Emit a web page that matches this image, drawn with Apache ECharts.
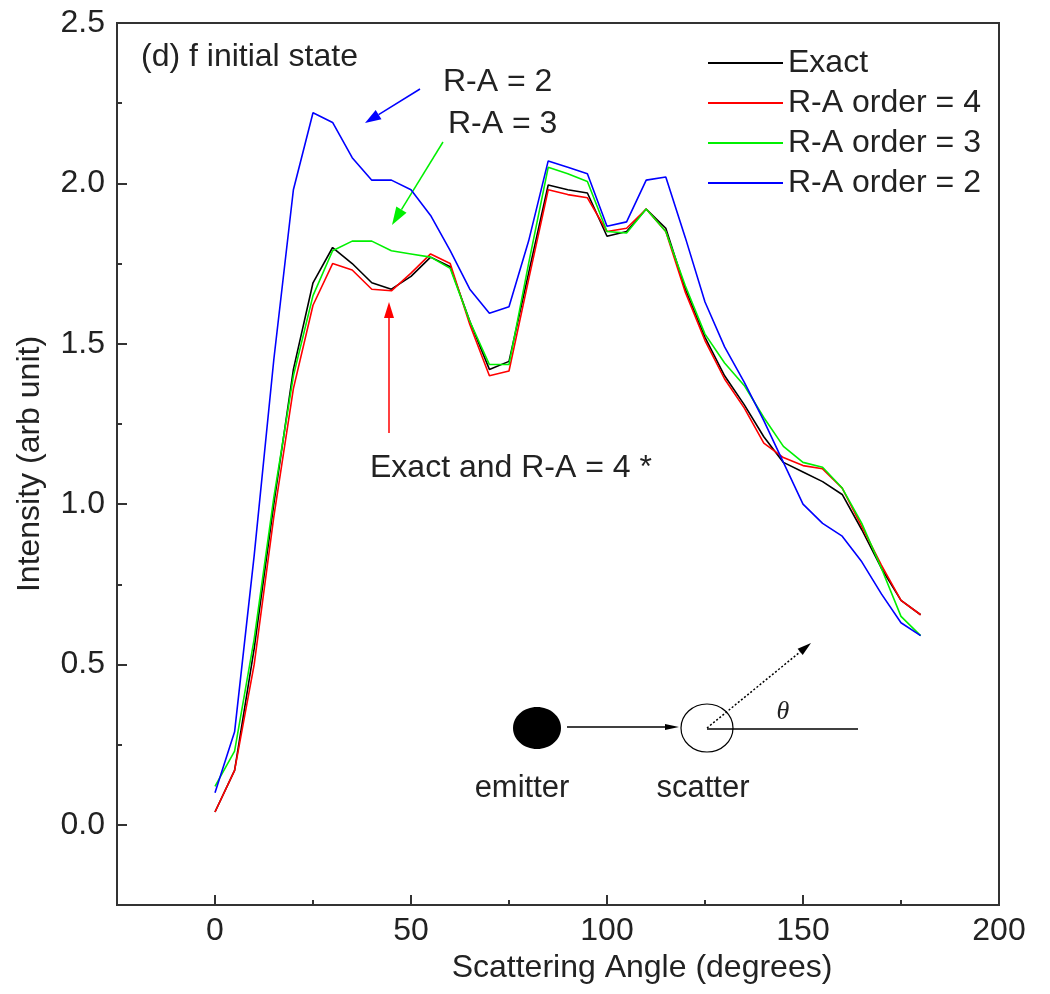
<!DOCTYPE html>
<html>
<head>
<meta charset="utf-8">
<script src="https://cdn.jsdelivr.net/npm/echarts@6/dist/echarts.min.js"></script>
<style>
html,body{margin:0;padding:0;background:#fff;}
#chart{width:1050px;height:994px;}
</style>
</head>
<body>
<div id="chart"></div>
<script>
const angles = [0,5,10,15,20,25,30,35,40,45,50,55,60,65,70,75,80,85,90,95,100,105,110,115,120,125,130,135,140,145,150,155,160,165,170,175,180];
const exact = [0.04,0.17,0.55,1.00,1.42,1.69,1.80,1.75,1.69,1.67,1.71,1.77,1.74,1.57,1.42,1.445,1.72,1.995,1.98,1.97,1.835,1.85,1.92,1.86,1.67,1.52,1.40,1.31,1.21,1.13,1.10,1.07,1.03,0.92,0.80,0.70,0.655];
const raOrder4 = [0.04,0.17,0.50,0.96,1.36,1.62,1.75,1.73,1.67,1.665,1.72,1.78,1.75,1.56,1.40,1.415,1.70,1.98,1.965,1.955,1.85,1.86,1.92,1.85,1.66,1.51,1.39,1.30,1.19,1.145,1.12,1.11,1.05,0.93,0.81,0.70,0.655];
const raOrder3 = [0.12,0.23,0.58,1.02,1.40,1.65,1.79,1.82,1.82,1.79,1.78,1.77,1.735,1.57,1.435,1.435,1.75,2.05,2.03,2.006,1.85,1.845,1.92,1.85,1.68,1.53,1.44,1.37,1.27,1.18,1.13,1.115,1.05,0.94,0.80,0.65,0.59];
const raOrder2 = [0.10,0.29,0.84,1.45,1.98,2.22,2.19,2.08,2.01,2.01,1.98,1.90,1.79,1.67,1.595,1.615,1.82,2.07,2.05,2.03,1.866,1.88,2.01,2.02,1.83,1.63,1.49,1.38,1.26,1.13,1.00,0.94,0.90,0.82,0.72,0.63,0.59];
const seriesNames = ['Exact','R-A order = 4','R-A order = 3','R-A order = 2'];
const xMajorTicks = [0,50,100,150,200];
const xMinorTicks = [25,75,125,175];
const yMajorTicks = [0,0.5,1.0,1.5,2.0,2.5];
const yMinorTicks = [0.25,0.75,1.25,1.75,2.25];

const FONT = '"Liberation Sans", Arial, sans-serif';
const TXT = '#222';
const AX = '#333';
const colors = ['#000000','#ff0000','#00f000','#0000ff'];
const values = [exact, raOrder4, raOrder3, raOrder2];

function arrow(x1,y1,x2,y2,color,hl,hw,dash){
  const dx=x2-x1, dy=y2-y1, L=Math.sqrt(dx*dx+dy*dy), ux=dx/L, uy=dy/L;
  const bx=x2-ux*hl, by=y2-uy*hl;
  const px=-uy*hw/2, py=ux*hw/2;
  return [
    {type:'line', shape:{x1:x1,y1:y1,x2:bx,y2:by}, style:{stroke:color,lineWidth:1.5,lineDash:dash||null}, silent:true},
    {type:'polygon', shape:{points:[[x2,y2],[bx+px,by+py],[bx-px,by-py]]}, style:{fill:color}, silent:true}
  ];
}
function txt(t,x,y,size,align,fontStyle){
  return {type:'text', x:x, y:y, silent:true, style:{text:t, fill:TXT, font:(fontStyle||'')+' '+size+'px '+FONT, align:align||'left', verticalAlign:'middle', textAlign:align||'left', textVerticalAlign:'middle'}};
}

const graphics = [].concat(
  [txt('(d) f initial state',141,57,32)],
  [txt('R-A = 2',443,82,32)],
  [txt('R-A = 3',448,124,32)],
  arrow(420,89,365,123,'#0000ff',16,11),
  arrow(443,142,392,225,'#00f000',18,12),
  arrow(389,433,389,302,'#ff0000',16,10),
  [txt('Exact and R-A = 4 *',370,468,32)],
  [{type:'ellipse', shape:{cx:537,cy:728,rx:24,ry:21}, style:{fill:'#000'}, silent:true}],
  arrow(567,727,679,727,'#000',14,6),
  [{type:'ellipse', shape:{cx:707,cy:728,rx:26,ry:24}, style:{fill:'none',stroke:'#000',lineWidth:1.2}, silent:true}],
  [{type:'line', shape:{x1:707,y1:729,x2:858,y2:729}, style:{stroke:'#000',lineWidth:1.5}, silent:true}],
  arrow(707,728,811,643,'#000',14,8,[2,2]),
  [{type:'text', x:783, y:712, silent:true, style:{text:'θ', fill:TXT, font:'italic 26px "Liberation Serif", serif', align:'center', verticalAlign:'middle', textAlign:'center', textVerticalAlign:'middle'}}],
  [txt('emitter',522,788,31,'center')],
  [txt('scatter',703,788,31,'center')]
);

const chart = echarts.init(document.getElementById('chart'), null, {renderer:'canvas'});
chart.setOption({
  backgroundColor:'#fff',
  animation:false,
  grid:{left:117, top:23, right:51, bottom:89, show:true, borderColor:AX, borderWidth:2, backgroundColor:'transparent'},
  legend:{
    orient:'vertical', left:703, top:42, itemWidth:75, itemHeight:2, itemGap:8,
    icon:'rect',
    data:seriesNames,
    textStyle:{fontSize:32, color:TXT, fontFamily:FONT},
    selectedMode:false
  },
  xAxis:[{
    type:'value', min:-25, max:200, position:'bottom',
    name:'Scattering Angle (degrees)', nameLocation:'middle', nameGap:47,
    nameTextStyle:{fontSize:32, color:TXT, fontFamily:FONT, padding:[0,0,0,168]},
    axisLine:{show:true, onZero:false, lineStyle:{color:AX, width:2}},
    axisTick:{show:true, inside:true, length:10, customValues:xMajorTicks, lineStyle:{color:AX, width:2}},
    axisLabel:{show:true, customValues:xMajorTicks, fontSize:32, color:TXT, fontFamily:FONT, margin:10},
    splitLine:{show:false}
  },{
    type:'value', min:-25, max:200, position:'bottom', gridIndex:0,
    axisLine:{show:false, onZero:false},
    axisTick:{show:true, inside:true, length:5, customValues:xMinorTicks, lineStyle:{color:AX, width:2}},
    axisLabel:{show:false},
    splitLine:{show:false}
  }],
  yAxis:[{
    type:'value', min:-0.25, max:2.5, position:'left',
    name:'Intensity (arb unit)', nameLocation:'middle', nameGap:71,
    nameTextStyle:{fontSize:32, color:TXT, fontFamily:FONT},
    axisLine:{show:true, onZero:false, lineStyle:{color:AX, width:2}},
    axisTick:{show:true, inside:true, length:10, customValues:yMajorTicks, lineStyle:{color:AX, width:2}},
    axisLabel:{show:true, customValues:yMajorTicks, fontSize:32, color:TXT, fontFamily:FONT, margin:12, formatter:function(v){return Number(v).toFixed(1);}},
    splitLine:{show:false}
  },{
    type:'value', min:-0.25, max:2.5, position:'left', gridIndex:0,
    axisLine:{show:false, onZero:false},
    axisTick:{show:true, inside:true, length:5, customValues:yMinorTicks, lineStyle:{color:AX, width:2}},
    axisLabel:{show:false},
    splitLine:{show:false}
  }],
  series: seriesNames.map(function(n,k){
    return {
      name:n, type:'line', xAxisIndex:0, yAxisIndex:0,
      symbol:'none', showSymbol:false,
      lineStyle:{color:colors[k], width:1.6},
      itemStyle:{color:colors[k]},
      data: angles.map(function(a,i){return [a, values[k][i]];})
    };
  }),
  graphic: graphics
});
</script>
</body>
</html>
